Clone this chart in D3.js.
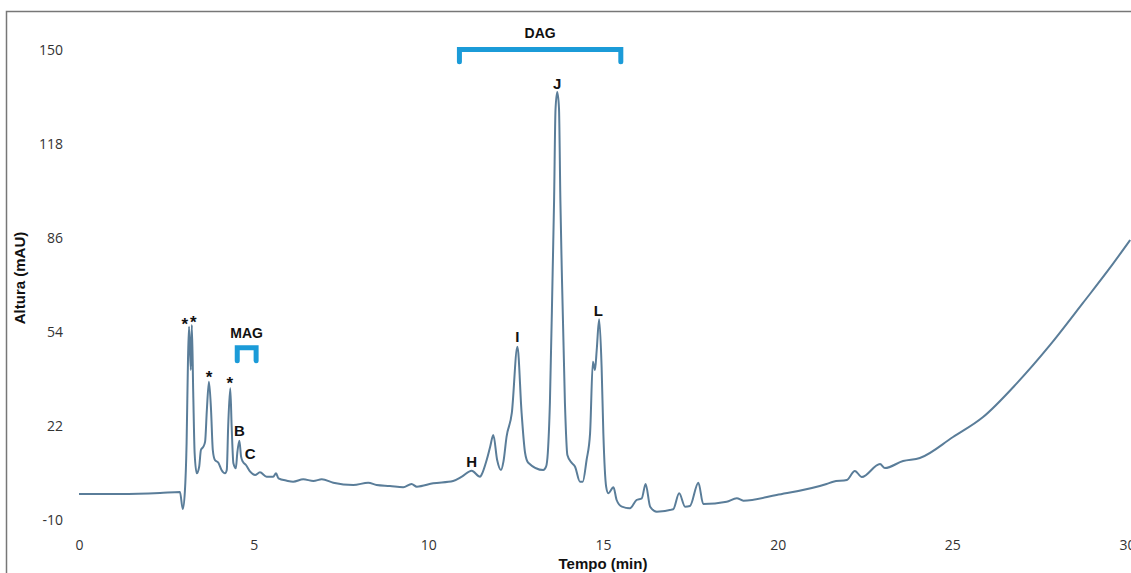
<!DOCTYPE html>
<html lang="en">
<head>
    <meta charset="UTF-8">
    <title>Cromatograma</title>
    <script type="text/javascript" src="https://d3js.org/d3.v7.min.js"></script>
    <style>
        body { margin: 0; background: #fff; }
        .tick text { font-family: "Open Sans", sans-serif; font-size: 14px; fill: #333; }
        .lbl { font-family: "Liberation Sans", Arial, sans-serif; font-weight: bold; fill: #111; }
    </style>
</head>
<body>
    <div id="chart"></div>

    <script>
        // chromatogram trace
        const tempo = [0, 1.17, 2.32, 2.89, 2.97, 3.03, 3.08, 3.12, 3.15, 3.20, 3.23, 3.27, 3.31, 3.37, 3.44, 3.49, 3.56, 3.61, 3.66, 3.72,
            3.78, 3.83, 3.89, 3.99, 4.08, 4.18, 4.23, 4.27, 4.33, 4.37, 4.42, 4.49, 4.53, 4.59, 4.64, 4.69, 4.78, 4.90, 5.04, 5.18,
            5.37, 5.56, 5.64, 5.71, 5.95, 6.13, 6.42, 6.71, 6.95, 7.28, 7.85, 8.28, 8.52, 8.90, 9.28, 9.52, 9.67, 10.14, 10.71, 10.96,
            11.24, 11.48, 11.53, 11.67, 11.77, 11.86, 11.97, 12.08, 12.15, 12.24, 12.39, 12.55, 12.67, 12.77, 12.86, 13.29, 13.37, 13.42, 13.48, 13.56,
            13.60, 13.64, 13.69, 13.74, 13.78, 13.82, 13.91, 13.98, 14.10, 14.20, 14.34, 14.42, 14.53, 14.63, 14.71, 14.77, 14.82, 14.89, 14.96, 15.01,
            15.09, 15.15, 15.30, 15.39, 15.54, 15.77, 15.96, 16.11, 16.22, 16.35, 16.54, 17.01, 17.18, 17.35, 17.49, 17.73, 17.87, 18.54, 18.83, 19.02,
            19.97, 21.40, 21.59, 21.98, 22.21, 22.41, 22.93, 23.07, 23.59, 24.07, 25.02, 25.88, 26.85, 27.80, 28.74, 29.51, 30.09];
        const altura = [-1.15, -1.15, -0.81, -0.47, -6.26, -0.47, 16.21, 44.47, 55.80, 41.06, 56.38, 33.23, 12.81, 5.90, 8.14, 13.83, 14.95, 16.66, 27.45, 37.08,
            27.45, 13.83, 10.43, 9.51, 7.02, 5.90, 7.02, 21.76, 34.83, 21.76, 9.30, 7.60, 12.71, 17.00, 11.55, 9.85, 8.72, 6.44, 5.32, 6.24,
            4.74, 4.74, 5.90, 4.20, 3.38, 3.04, 3.86, 3.28, 3.86, 2.70, 1.91, 2.70, 1.91, 1.57, 1.13, 2.26, 1.34, 2.49, 3.28, 4.74,
            6.78, 4.74, 5.56, 10.43, 14.95, 18.94, 10.43, 7.02, 9.85, 18.36, 26.43, 49.00, 26.43, 12.81, 9.51, 7.02, 8.14, 12.81, 29.83, 75.11,
            98.94, 129.57, 135.70, 130.26, 98.94, 75.11, 29.83, 12.13, 9.51, 8.14, 3.04, 3.04, 10.43, 19.51, 43.89, 41.06, 47.87, 58.32, 42.19, 19.51,
            1.34, -0.91, 1.13, -3.19, -5.47, -6.02, -3.19, -2.61, 2.26, -5.47, -7.17, -6.36, -0.91, -5.47, -5.23, 2.70, -4.55, -3.77, -2.61, -3.43,
            -1.49, 2.26, 3.04, 3.62, 6.68, 4.64, 9.06, 7.70, 10.09, 11.11, 18.26, 25.06, 36.6, 49.6, 63.9, 75.8, 85.32];

        const xTicks = [0, 5, 10, 15, 20, 25, 30];
        const yTicks = [-10, 22, 54, 86, 118, 150];

        // peak labels (text, time, height of label centre)
        const labelText = ["*", "*", "*", "*", "B", "C", "H", "I", "J", "L"];
        const labelT = [3.03, 3.27, 3.72, 4.32, 4.59, 4.90, 11.24, 12.55, 13.69, 14.87];
        const labelV = [58.1, 58.7, 40.1, 37.9, 20.3, 12.5, 9.85, 52.4, 138.4, 61.2];

        // brackets: name, start, end, top, bottom
        const groupName = ["MAG", "DAG"];
        const groupStart = [4.53, 10.89];
        const groupEnd = [5.07, 15.51];
        const groupTop = [48.65, 150.2];
        const groupBottom = [44.2, 146.0];
        const groupTextV = [53.8, 155.8];

        const width = 1131, height = 573;

        const svg = d3.select("#chart")
            .append("svg")
            .attr("width", width)
            .attr("height", height);

        // frame
        svg.append("rect")
            .attr("x", 6.5)
            .attr("y", 11.5)
            .attr("width", 1200)
            .attr("height", 600)
            .attr("fill", "none")
            .attr("stroke", "#777")
            .attr("stroke-width", 1.5);

        const x = d3.scaleLinear().domain([0, 30]).range([79, 1127]);
        const y = d3.scaleLinear().domain([-10, 150]).range([520, 50]);

        const xAxis = d3.axisBottom(x).tickValues(xTicks).tickSize(0).tickPadding(3)
            .tickFormat(d => String(d));
        const yAxis = d3.axisLeft(y).tickValues(yTicks).tickSize(0).tickPadding(3)
            .tickFormat(d => String(d)); // keep plain hyphen for -10

        svg.append("g")
            .attr("transform", "translate(0,537)")
            .call(xAxis)
            .call(g => g.select(".domain").remove());

        svg.append("g")
            .attr("transform", "translate(66,0)")
            .call(yAxis)
            .call(g => g.select(".domain").remove());

        // axis titles
        svg.append("text")
            .attr("class", "lbl")
            .attr("x", 603)
            .attr("y", 569)
            .attr("text-anchor", "middle")
            .style("font-size", "15px")
            .text("Tempo (min)");

        svg.append("text")
            .attr("class", "lbl")
            .attr("transform", "translate(25,278) rotate(-90)")
            .attr("text-anchor", "middle")
            .style("font-size", "15px")
            .text("Altura (mAU)");

        // trace
        const pts = tempo.map((t, i) => [t, altura[i]]);
        const line = d3.line()
            .x(d => x(d[0]))
            .y(d => y(d[1]))
            .curve(d3.curveMonotoneX);

        svg.append("path")
            .attr("d", line(pts))
            .attr("fill", "none")
            .attr("stroke", "#5a7d99")
            .attr("stroke-width", 2)
            .attr("stroke-linejoin", "round");

        // brackets
        groupName.forEach((name, i) => {
            const x1 = x(groupStart[i]), x2 = x(groupEnd[i]);
            const yt = y(groupTop[i]), yb = y(groupBottom[i]);
            svg.append("path")
                .attr("d", `M${x1},${yb}L${x1},${yt}L${x2},${yt}L${x2},${yb}`)
                .attr("fill", "none")
                .attr("stroke", "#1b9bd8")
                .attr("stroke-width", 5)
                .attr("stroke-linecap", "round");
            svg.append("text")
                .attr("class", "lbl")
                .attr("x", (x1 + x2) / 2)
                .attr("y", y(groupTextV[i]))
                .attr("dy", "0.36em")
                .attr("text-anchor", "middle")
                .style("font-size", "14px")
                .text(name);
        });

        // peak labels
        svg.selectAll(".peak")
            .data(labelText)
            .enter()
            .append("text")
            .attr("class", "lbl peak")
            .attr("x", (d, i) => x(labelT[i]))
            .attr("y", (d, i) => y(labelV[i]))
            .attr("dy", d => d == "*" ? "0.6em" : "0.36em")
            .attr("text-anchor", "middle")
            .style("font-size", d => d == "*" ? "17px" : "15px")
            .text(d => d);
    </script>
</body>
</html>
